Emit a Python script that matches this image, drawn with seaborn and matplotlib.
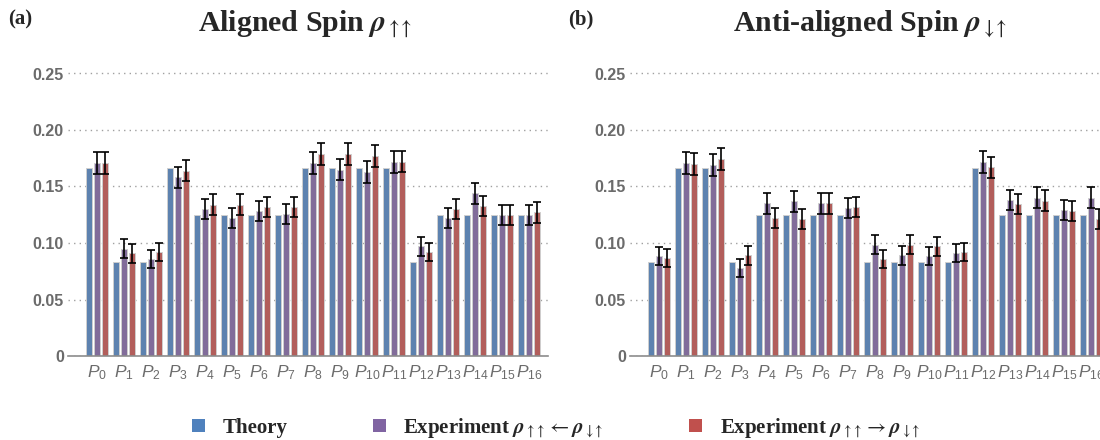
import matplotlib
matplotlib.use("Agg")
import matplotlib.pyplot as plt
from matplotlib.patches import Patch
from matplotlib.font_manager import FontProperties
import seaborn as sns
import pandas as pd
import numpy as np

# ---------------- data ----------------
states = [f"P{i}" for i in range(17)]
tick_labels = [rf"$P_{{{i}}}$" for i in range(17)]
series_names = ["Theory", "Exp back", "Exp fwd"]

theory_a = [0.1667, 0.0833, 0.0833, 0.1667, 0.125, 0.125, 0.125, 0.125, 0.1667,
            0.1667, 0.1667, 0.1667, 0.0833, 0.125, 0.125, 0.125, 0.125]
back_a = [0.171, 0.095, 0.086, 0.158, 0.130, 0.122, 0.128, 0.126, 0.171,
          0.165, 0.163, 0.172, 0.097, 0.122, 0.144, 0.125, 0.125]
fwd_a = [0.171, 0.091, 0.092, 0.164, 0.134, 0.134, 0.132, 0.132, 0.179,
         0.179, 0.177, 0.172, 0.092, 0.130, 0.133, 0.125, 0.127]
err_back_a = [0.0097, 0.0084, 0.0080, 0.0094, 0.0090, 0.0088, 0.0089, 0.0089, 0.0097,
              0.0095, 0.0095, 0.0097, 0.0085, 0.0088, 0.0093, 0.0088, 0.0088]
err_fwd_a = [0.0095, 0.0083, 0.0083, 0.0095, 0.0090, 0.0090, 0.0090, 0.0090, 0.0097,
             0.0097, 0.0097, 0.0096, 0.0083, 0.0090, 0.0090, 0.0088, 0.0089]

theory_b = [0.0833, 0.1667, 0.1667, 0.0833, 0.125, 0.125, 0.125, 0.125, 0.0833,
            0.0833, 0.0833, 0.0833, 0.1667, 0.125, 0.125, 0.125, 0.125]
back_b = [0.0885, 0.171, 0.169, 0.078, 0.135, 0.137, 0.135, 0.131, 0.0985,
          0.089, 0.0885, 0.091, 0.172, 0.138, 0.140, 0.129, 0.140]
fwd_b = [0.087, 0.170, 0.174, 0.089, 0.122, 0.1215, 0.135, 0.1316, 0.0858,
         0.0985, 0.097, 0.092, 0.167, 0.1345, 0.1375, 0.1286, 0.121]
err_back_b = [0.0080, 0.0096, 0.0095, 0.0078, 0.0092, 0.0092, 0.0092, 0.0090, 0.0085,
              0.0082, 0.0081, 0.0082, 0.0097, 0.0092, 0.0092, 0.0090, 0.0093]
err_fwd_b = [0.0080, 0.0095, 0.0097, 0.0082, 0.0088, 0.0088, 0.0091, 0.0090, 0.0080,
             0.0085, 0.0085, 0.0082, 0.0095, 0.0091, 0.0091, 0.0089, 0.0088]

yticks = [0, 0.05, 0.10, 0.15, 0.20, 0.25]
ytick_labels = ["0", "0.05", "0.10", "0.15", "0.20", "0.25"]

titles = [r"Aligned Spin $\mathbfit{\rho}_{\uparrow\!\!\uparrow}$",
          r"Anti-aligned Spin $\mathbfit{\rho}_{\downarrow\!\!\uparrow}$"]
panel_labels = ["(a)", "(b)"]
legend_labels = ["Theory",
                 r"Experiment $\mathbfit{\rho}_{\uparrow\!\uparrow} \leftarrow \mathbfit{\rho}_{\downarrow\!\uparrow}$",
                 r"Experiment $\mathbfit{\rho}_{\uparrow\!\uparrow} \rightarrow \mathbfit{\rho}_{\downarrow\!\uparrow}$"]
colors = ["#4F81BD", "#8064A2", "#C0504D"]

# ---------------- style ----------------
sns.set_theme(style="white")
plt.rcParams["font.family"] = ["Liberation Sans", "DejaVu Sans"]
plt.rcParams["mathtext.fontset"] = "custom"
plt.rcParams["mathtext.rm"] = "Liberation Sans"
plt.rcParams["mathtext.it"] = "Liberation Sans:italic"
plt.rcParams["mathtext.bf"] = "Liberation Sans:bold"

W, H = 1100, 440
fig = plt.figure(figsize=(W / 100, H / 100), dpi=100)


def px_axes(x0, x1, ybot, ytop):
    return [x0 / W, (H - ybot) / H, (x1 - x0) / W, (ybot - ytop) / H]


ymax = 0.26
y0px = 356
ytop_px = y0px - ymax * 1130
axes = [fig.add_axes(px_axes(68, 548, y0px, ytop_px)),
        fig.add_axes(px_axes(630, 1110, y0px, ytop_px))]

datasets = [(theory_a, back_a, fwd_a, err_back_a, err_fwd_a),
            (theory_b, back_b, fwd_b, err_back_b, err_fwd_b)]

gray = "#6b6b6b"
for ax, (th, bk, fw, ebk, efw) in zip(axes, datasets):
    df = pd.DataFrame({
        "state": states * 3,
        "series": [series_names[0]] * 17 + [series_names[1]] * 17 + [series_names[2]] * 17,
        "value": list(th) + list(bk) + list(fw),
    })
    sns.barplot(data=df, x="state", y="value", hue="series", order=states,
                hue_order=series_names, palette=colors, width=0.9, gap=0.25,
                errorbar=None, legend=False, edgecolor="#cfcfcf", linewidth=0.7,
                ax=ax, zorder=3)
    for cont, err in zip(ax.containers[1:3], [ebk, efw]):
        xs = [b.get_x() + b.get_width() / 2 for b in cont]
        hs = [b.get_height() for b in cont]
        ax.errorbar(xs, hs, yerr=err, fmt="none", ecolor="black",
                    elinewidth=1.2, capsize=2.6, capthick=1.2, zorder=4)
    ax.set_ylim(0, ymax)
    ax.set_xlim(-1.07, 16.7)
    ax.set_yticks(yticks)
    ax.set_yticklabels(ytick_labels, color=gray, fontsize=11.5, fontweight="bold")
    ax.set_xticks(range(17))
    ax.set_xticklabels(tick_labels, color=gray, fontsize=12.5)
    ax.tick_params(axis="both", length=0)
    ax.tick_params(axis="y", pad=3.0)
    ax.tick_params(axis="x", pad=5)
    ax.set_xlabel("")
    ax.set_ylabel("")
    for s in ["left", "right", "top"]:
        ax.spines[s].set_visible(False)
    ax.spines["bottom"].set_color("#8c8c8c")
    ax.spines["bottom"].set_linewidth(1.2)
    ax.spines["bottom"].set_zorder(5)
    ax.yaxis.grid(True, linestyle=(0, (1, 3)), color="#a0a0a0", linewidth=1.0, zorder=0)
    ax.set_axisbelow(True)

# titles
for xc, t in zip([305, 870], titles):
    fig.text(xc / W, (H - 30.5) / H, t, ha="center", va="baseline",
             fontsize=21.5, fontweight="bold", family="Liberation Serif",
             math_fontfamily="stix")
for xl, t in zip([8, 568], panel_labels):
    fig.text(xl / W, (H - 24) / H, t, ha="left", va="baseline",
             fontsize=15, fontweight="bold", family="Liberation Serif")

# legend
fp = FontProperties(family="Liberation Serif", weight="bold", size=15,
                    math_fontfamily="stix")
handles = [Patch(facecolor=c, edgecolor="none") for c in colors]
fig.legend(handles, legend_labels, loc="center", bbox_to_anchor=(556 / W, 12 / H),
           ncol=3, frameon=False, prop=fp, handlelength=0.62, handleheight=0.62,
           handletextpad=0.85, columnspacing=4.1)

fig.savefig("out.png", dpi=100)
